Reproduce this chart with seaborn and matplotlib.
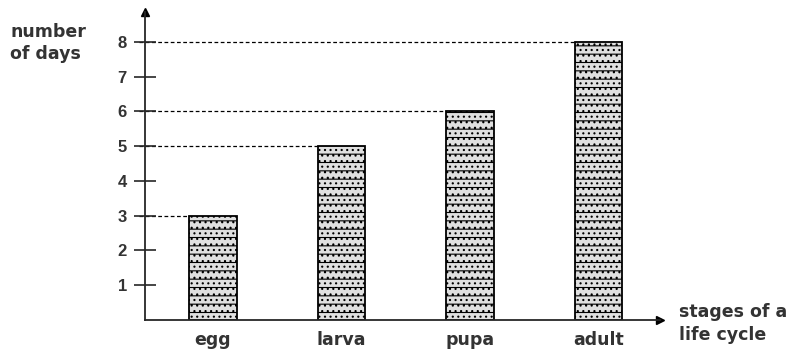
import pandas as pd
import matplotlib
matplotlib.use("Agg")
import matplotlib.pyplot as plt
import seaborn as sns

# Values
stages = ["egg", "larva", "pupa", "adult"]
days = [3, 5, 6, 8]
y_ticks = [1, 2, 3, 4, 5, 6, 7, 8]

df = pd.DataFrame({"stage": stages, "days": days})

sns.set_style("white")
plt.rcParams["font.family"] = ["Liberation Sans", "DejaVu Sans"]
plt.rcParams["hatch.color"] = "#555555"
plt.rcParams["hatch.linewidth"] = 0.8

word_font = dict(family="DejaVu Sans", fontsize=12.5, fontweight="bold", color="#333333")

fig = plt.figure(figsize=(7.94, 3.52), dpi=100)
ax = fig.add_axes([0.1826, 0.0909, 0.6486, 0.875])

bar_w = 0.37
sns.barplot(data=df, x="stage", y="days", ax=ax, width=bar_w,
            color="#e0e0e0", edgecolor="black", linewidth=1.3, saturation=1)
for p in ax.patches:
    p.set_hatch("--...")

x_lo, x_hi = -0.53, 3.48
ax.set_xlim(x_lo, x_hi)
ax.set_ylim(0, 8.86)

# dashed guide lines from the axis to each bar
for i, d in enumerate(days):
    ax.hlines(d, x_lo - 0.05, i - bar_w / 2, colors="black",
              linestyles=(0, (3, 2)), linewidth=0.9, clip_on=False, zorder=0)

for s in ["top", "right"]:
    ax.spines[s].set_visible(False)
ax.spines["left"].set_linewidth(1.3)
ax.spines["bottom"].set_linewidth(1.3)

# arrow heads
ax.plot(1, 0, ">", color="black", markersize=6, transform=ax.transAxes, clip_on=False)
ax.plot(0, 1, "^", color="black", markersize=6, transform=ax.transAxes, clip_on=False)

ax.set_yticks(y_ticks)
ax.set_yticklabels([str(t) for t in y_ticks], fontsize=12, fontweight="bold", color="#333333")
ax.tick_params(axis="y", direction="inout", length=16, width=1.2, pad=5, left=True)
ax.tick_params(axis="x", length=0, pad=8)
for lab in ax.get_xticklabels():
    lab.set_fontfamily("DejaVu Sans")
    lab.set_fontsize(12.5)
    lab.set_fontweight("bold")
    lab.set_color("#333333")
ax.set_xlabel("")
ax.set_ylabel("")

fig.text(0.013, 0.935, "number\nof days", ha="left", va="top", linespacing=1.3, **word_font)
fig.text(0.855, 0.14, "stages of a\nlife cycle", ha="left", va="top", linespacing=1.35, **word_font)

fig.savefig("out.png", dpi=100, facecolor="white")
